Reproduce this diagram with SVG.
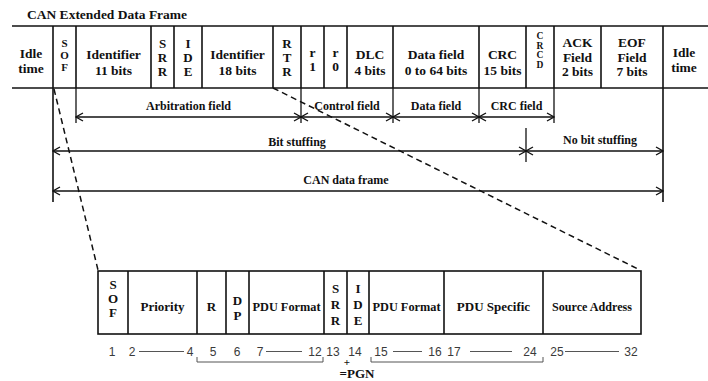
<svg xmlns="http://www.w3.org/2000/svg" width="708" height="381" viewBox="0 0 708 381">
  <style>
    .t { font-family: "Liberation Serif", "Times New Roman", serif; font-weight: bold; font-size: 13px; fill: #111; text-anchor: middle; }
    .m { font-size: 13.5px; }
    .s { font-size: 12px; }
    .so { font-size: 11px; }
    .xs { font-size: 9.5px; }
    .n { font-family: "Liberation Sans", Arial, sans-serif; font-size: 12px; fill: #3a3a3a; text-anchor: middle; }
    .ln { stroke: #111; stroke-width: 1.6; fill: none; }
    .thin { stroke: #111; stroke-width: 1.3; fill: none; }
    .dash { stroke: #111; stroke-width: 1.5; fill: none; stroke-dasharray: 6 4; }
    .gr { stroke: #555; stroke-width: 1; fill: none; }
  </style>
  <defs>
    <marker id="arr" viewBox="-8 -5 9 10" refX="0" refY="0" markerWidth="9" markerHeight="10" markerUnits="userSpaceOnUse" orient="auto-start-reverse">
      <path d="M-7,-4 L0,0 L-7,4" fill="none" stroke="#111" stroke-width="1.3"/>
    </marker>
  </defs>
  <rect width="708" height="381" fill="#fff"/>

  <text class="t m" x="27" y="19" style="text-anchor:start">CAN Extended Data Frame</text>

  <!-- CAN extended frame: outer rules -->
  <g id="frame-rules">
    <line class="ln" x1="12" y1="26" x2="708" y2="26"/>
    <line class="ln" x1="12" y1="88" x2="708" y2="88"/>
  </g>

  <g id="idle-start">
    <text class="t m" x="31" y="58">Idle</text>
    <text class="t m" x="31" y="73">time</text>
  </g>
  <g id="sof">
    <line class="ln" x1="53" y1="26" x2="53" y2="88"/>
    <text class="t so" x="64.5" y="47">S</text>
    <text class="t so" x="64.5" y="59">O</text>
    <text class="t so" x="64.5" y="71">F</text>
  </g>
  <g id="identifier-11">
    <line class="ln" x1="76" y1="26" x2="76" y2="88"/>
    <text class="t m" x="113.5" y="59">Identifier</text>
    <text class="t m" x="113.5" y="75">11 bits</text>
  </g>
  <g id="srr">
    <line class="ln" x1="151" y1="26" x2="151" y2="88"/>
    <text class="t" x="162.5" y="48">S</text>
    <text class="t" x="162.5" y="62">R</text>
    <text class="t" x="162.5" y="76">R</text>
  </g>
  <g id="ide">
    <line class="ln" x1="174" y1="26" x2="174" y2="88"/>
    <text class="t" x="188" y="48">I</text>
    <text class="t" x="188" y="62">D</text>
    <text class="t" x="188" y="76">E</text>
  </g>
  <g id="identifier-18">
    <line class="ln" x1="202" y1="26" x2="202" y2="88"/>
    <text class="t m" x="237.5" y="59">Identifier</text>
    <text class="t m" x="237.5" y="75">18 bits</text>
  </g>
  <g id="rtr">
    <line class="ln" x1="273" y1="26" x2="273" y2="88"/>
    <text class="t" x="287" y="48">R</text>
    <text class="t" x="287" y="62">T</text>
    <text class="t" x="287" y="76">R</text>
  </g>
  <g id="r1">
    <line class="ln" x1="301" y1="26" x2="301" y2="88"/>
    <text class="t m" x="312.5" y="57">r</text>
    <text class="t m" x="312.5" y="71">1</text>
  </g>
  <g id="r0">
    <line class="ln" x1="324" y1="26" x2="324" y2="88"/>
    <text class="t m" x="335.5" y="57">r</text>
    <text class="t m" x="335.5" y="71">0</text>
  </g>
  <g id="dlc">
    <line class="ln" x1="347" y1="26" x2="347" y2="88"/>
    <text class="t m" x="370" y="59">DLC</text>
    <text class="t m" x="370" y="75">4 bits</text>
  </g>
  <g id="data-field">
    <line class="ln" x1="393" y1="26" x2="393" y2="88"/>
    <text class="t m" x="436" y="59">Data field</text>
    <text class="t m" x="436" y="75">0 to 64 bits</text>
  </g>
  <g id="crc">
    <line class="ln" x1="479" y1="26" x2="479" y2="88"/>
    <text class="t m" x="502.5" y="59">CRC</text>
    <text class="t m" x="502.5" y="75">15 bits</text>
  </g>
  <g id="crcd">
    <line class="ln" x1="526" y1="26" x2="526" y2="88"/>
    <text class="t xs" x="540" y="39">C</text>
    <text class="t xs" x="540" y="48.5">R</text>
    <text class="t xs" x="540" y="58">C</text>
    <text class="t xs" x="540" y="67.5">D</text>
  </g>
  <g id="ack">
    <line class="ln" x1="554" y1="26" x2="554" y2="88"/>
    <text class="t m" x="577.5" y="47">ACK</text>
    <text class="t m" x="577.5" y="62">Field</text>
    <text class="t m" x="577.5" y="76">2 bits</text>
  </g>
  <g id="eof">
    <line class="ln" x1="601" y1="26" x2="601" y2="88"/>
    <text class="t m" x="632" y="47">EOF</text>
    <text class="t m" x="632" y="62">Field</text>
    <text class="t m" x="632" y="76">7 bits</text>
  </g>
  <g id="idle-end">
    <line class="ln" x1="663" y1="26" x2="663" y2="88"/>
    <text class="t m" x="684" y="57">Idle</text>
    <text class="t m" x="684" y="72">time</text>
  </g>

  <!-- field spans, bit stuffing ranges and zoom lines -->
  <g id="connectors">
    <line class="ln" x1="53" y1="88" x2="53" y2="202"/>
    <line class="ln" x1="663" y1="88" x2="663" y2="202"/>
    <line class="thin" x1="76" y1="88" x2="76" y2="123"/>
    <line class="thin" x1="301" y1="88" x2="301" y2="123"/>
    <line class="thin" x1="393" y1="88" x2="393" y2="123"/>
    <line class="thin" x1="479" y1="88" x2="479" y2="123"/>
    <line class="thin" x1="554" y1="88" x2="554" y2="123"/>
    <line class="thin" x1="526" y1="128" x2="526" y2="162"/>

    <line class="thin" x1="76" y1="117" x2="301" y2="117" marker-start="url(#arr)" marker-end="url(#arr)"/>
    <line class="thin" x1="301" y1="117" x2="393" y2="117" marker-start="url(#arr)" marker-end="url(#arr)"/>
    <line class="thin" x1="393" y1="117" x2="479" y2="117" marker-start="url(#arr)" marker-end="url(#arr)"/>
    <line class="thin" x1="479" y1="117" x2="554" y2="117" marker-start="url(#arr)" marker-end="url(#arr)"/>
    <line class="thin" x1="53" y1="151" x2="526" y2="151" marker-start="url(#arr)" marker-end="url(#arr)"/>
    <line class="thin" x1="526" y1="151" x2="663" y2="151" marker-start="url(#arr)" marker-end="url(#arr)"/>
    <line class="thin" x1="53" y1="191" x2="663" y2="191" marker-start="url(#arr)" marker-end="url(#arr)"/>

    <line class="dash" x1="54" y1="89" x2="98" y2="270"/>
    <line class="dash" x1="273" y1="88" x2="640" y2="270"/>
  </g>

  <g id="span-labels">
    <text class="t s" x="188.5" y="110">Arbitration field</text>
    <text class="t s" x="347" y="110">Control field</text>
    <text class="t s" x="436" y="110">Data field</text>
    <text class="t s" x="516.5" y="110">CRC field</text>
    <text class="t s" x="297" y="146">Bit stuffing</text>
    <text class="t s" x="600" y="144">No bit stuffing</text>
    <text class="t s" x="346" y="184">CAN data frame</text>
  </g>

  <!-- J1939 29-bit identifier breakdown -->
  <g id="j1939-box">
    <rect class="ln" x="98" y="271" width="543" height="63"/>
  </g>
  <g id="j-sof">
    <text class="t" x="113" y="289">S</text>
    <text class="t" x="113" y="303">O</text>
    <text class="t" x="113" y="317">F</text>
  </g>
  <g id="j-priority">
    <line class="ln" x1="128" y1="271" x2="128" y2="334"/>
    <text class="t" x="162.5" y="311">Priority</text>
  </g>
  <g id="j-r">
    <line class="ln" x1="197" y1="271" x2="197" y2="334"/>
    <text class="t" x="211.5" y="311">R</text>
  </g>
  <g id="j-dp">
    <line class="ln" x1="226" y1="271" x2="226" y2="334"/>
    <text class="t" x="237.5" y="305">D</text>
    <text class="t" x="237.5" y="320">P</text>
  </g>
  <g id="j-pdu-format-1">
    <line class="ln" x1="249" y1="271" x2="249" y2="334"/>
    <text class="t" x="286.5" y="311" textLength="68" lengthAdjust="spacingAndGlyphs">PDU Format</text>
  </g>
  <g id="j-srr">
    <line class="ln" x1="324" y1="271" x2="324" y2="334"/>
    <text class="t" x="335.5" y="293">S</text>
    <text class="t" x="335.5" y="309">R</text>
    <text class="t" x="335.5" y="325">R</text>
  </g>
  <g id="j-ide">
    <line class="ln" x1="347" y1="271" x2="347" y2="334"/>
    <text class="t" x="358" y="293">I</text>
    <text class="t" x="358" y="309">D</text>
    <text class="t" x="358" y="325">E</text>
  </g>
  <g id="j-pdu-format-2">
    <line class="ln" x1="369" y1="271" x2="369" y2="334"/>
    <text class="t" x="406.5" y="311" textLength="68" lengthAdjust="spacingAndGlyphs">PDU Format</text>
  </g>
  <g id="j-pdu-specific">
    <line class="ln" x1="444" y1="271" x2="444" y2="334"/>
    <text class="t" x="493.5" y="311">PDU Specific</text>
  </g>
  <g id="j-source-address">
    <line class="ln" x1="543" y1="271" x2="543" y2="334"/>
    <text class="t" x="592" y="311" textLength="80" lengthAdjust="spacingAndGlyphs">Source Address</text>
  </g>

  <!-- bit numbering -->
  <g id="bit-numbers">
    <text class="n" x="112" y="356">1</text>
    <text class="n" x="132" y="356">2</text>
    <line class="gr" x1="139" y1="351.5" x2="184" y2="351.5"/>
    <text class="n" x="190" y="356">4</text>
    <text class="n" x="213" y="356">5</text>
    <text class="n" x="237" y="356">6</text>
    <text class="n" x="260" y="356">7</text>
    <line class="gr" x1="266" y1="351.5" x2="302" y2="351.5"/>
    <text class="n" x="315" y="356">12</text>
    <text class="n" x="333" y="356">13</text>
    <text class="n" x="355" y="356">14</text>
    <text class="n" x="381" y="356">15</text>
    <line class="gr" x1="393" y1="351.5" x2="422" y2="351.5"/>
    <text class="n" x="435" y="356">16</text>
    <text class="n" x="454" y="356">17</text>
    <line class="gr" x1="470" y1="351.5" x2="512" y2="351.5"/>
    <text class="n" x="530" y="356">24</text>
    <text class="n" x="557" y="356">25</text>
    <line class="gr" x1="565" y1="351.5" x2="619" y2="351.5"/>
    <text class="n" x="631" y="356">32</text>
  </g>

  <!-- PGN brackets -->
  <g id="pgn">
    <path class="gr" d="M197,357 V362 H323 V357"/>
    <path class="gr" d="M371,357 V362 H543 V357"/>
    <text class="t so" x="347" y="366">+</text>
    <text class="t" x="357" y="378">=PGN</text>
  </g>
</svg>
